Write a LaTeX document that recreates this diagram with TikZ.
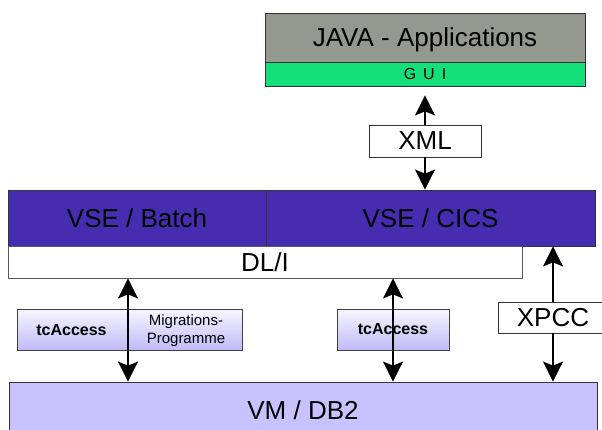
\documentclass[tikz,border=0pt]{standalone}
\usepackage{fontspec}
\setmainfont{Liberation Sans}
\usetikzlibrary{arrows.meta}

\definecolor{javagray}{RGB}{147,153,142}
\definecolor{guigreen}{RGB}{20,224,122}
\definecolor{vsepurple}{RGB}{70,45,176}
\definecolor{vmlilac}{RGB}{200,195,255}
\definecolor{tctop}{RGB}{247,246,255}
\definecolor{tcbottom}{RGB}{192,186,248}

\tikzset{
  layer/.style={draw=black!80, line width=0.8pt, inner sep=0pt, text depth=0pt,
    font=\fontsize{26}{30}\selectfont},
  tcbox/.style={draw=black!75, line width=0.8pt, inner sep=0pt,
    minimum height=41pt, top color=tctop, bottom color=tcbottom},
  tctext/.style={inner sep=0pt, font=\fontsize{16}{19}\bfseries},
  migtext/.style={inner sep=0pt, align=center, font=\fontsize{15}{18}\selectfont},
  link/.style={line width=2pt}
}

\begin{document}
\begin{tikzpicture}[x=1pt, y=-1pt, >={Stealth[length=20pt,width=20pt,inset=4pt]}]
  \clip (0,0) rectangle (602,430);
  \fill[white] (0,0) rectangle (602,430);

  % Java side
  \node[layer, fill=javagray, minimum width=320pt, minimum height=49pt] (java) at (425,37.5) {JAVA - Applications};
  \node[layer, fill=guigreen, minimum width=320pt, minimum height=24pt,
        font=\fontsize{16}{19}\selectfont] (gui) at (425,74) {G\hspace{7pt}U\hspace{7pt}I};
  \node[layer, fill=white, minimum width=112pt, minimum height=32pt] (xml) at (425,141) {XML};

  % VSE
  \node[layer, fill=vsepurple, minimum width=258pt, minimum height=56pt] (batch) at (137,218) {VSE / Batch};
  \node[layer, fill=vsepurple, minimum width=329pt, minimum height=56pt] (cics) at (430.5,218) {VSE / CICS};
  \node[layer, draw=black!65, fill=white, minimum width=514pt, minimum height=32pt] (dli) at (265,262) {DL/I};

  % access layer
  \node[tcbox, minimum width=225pt] (tca1) at (129.5,329.5) {};
  \node[tctext] (tca1t) at (71.5,330) {tcAccess};
  \node[migtext] (mig) at (186,331) {Migrations-\\Programme};
  \node[tcbox, minimum width=112pt] (tca2) at (393,329.5) {};
  \node[tctext] (tca2t) at (tca2) {tcAccess};
  \node[layer, fill=white, minimum width=110pt, minimum height=31pt] (xpcc) at (553,317.5) {XPCC};

  % VM
  \node[layer, fill=vmlilac, minimum width=588pt, minimum height=56pt] (vm) at (303,410) {VM / DB2};

  % connectors
  \coordinate (a1) at (128,0);
  \draw[link, ->, shorten >=9pt] (xml.north) -- (xml.north |- gui.south);
  \draw[link, ->] (xml.south) -- (xml.south |- cics.north);
  \draw[link, <->] (a1 |- dli.south) -- (a1 |- vm.north);
  \draw[link, <->] (tca2 |- dli.south) -- (tca2 |- vm.north);
  \draw[link, ->] (xpcc.north) -- (xpcc.north |- cics.south);
  \draw[link, ->] (xpcc.south) -- (xpcc.south |- vm.north);
\end{tikzpicture}
\end{document}
